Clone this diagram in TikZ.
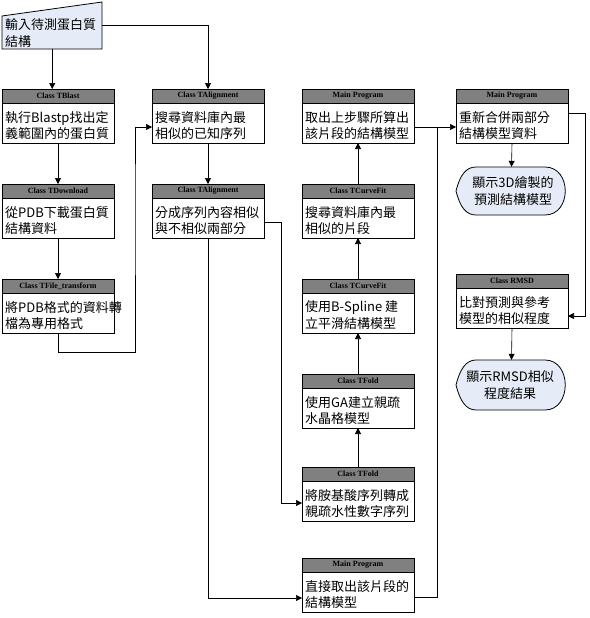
\documentclass[tikz,border=0pt]{standalone}
\usepackage{fontspec}
\setmainfont{Noto Sans CJK TC}
\newfontfamily\hdrfont{Liberation Serif}
\usetikzlibrary{arrows.meta,calc}
\definecolor{lightbg}{HTML}{E6ECF7}
\tikzset{
  boxst/.style={draw=black, line width=0.8pt, minimum width=112pt, minimum height=54pt, inner sep=0pt, outer sep=0pt},
  hdrfill/.style={fill=black!50},
  hdrtext/.style={font=\hdrfont\bfseries\fontsize{8}{9}\selectfont, text=black, inner sep=0pt},
  bodytext/.style={font=\fontsize{13}{17}\selectfont, inner sep=0pt},
  arr/.style={-{Triangle[length=6pt,width=6pt]}, line width=0.6pt},
  ln/.style={line width=0.6pt},
  dispst/.style={fill=lightbg, draw=black, line width=0.8pt}
}
\newcommand\classbox[6]{%
  \fill[hdrfill] (#2,#3) rectangle ++(112,14);
  \node[boxst, anchor=north west] (#1) at (#2,#3) {};
  \draw[line width=0.6pt] (#2,#3+14) -- ++(112,0);
  \node[hdrtext] (#1h) at (#2+56,#3+7) {#4};
  \node[bodytext, anchor=west] (#1a) at (#2+3,#3+29) {#5};
  \node[bodytext, anchor=west] (#1b) at (#2+3,#3+45) {#6};
}
\begin{document}
\begin{tikzpicture}[x=1pt,y=-1pt]
\useasboundingbox (0,0) rectangle (589,618);
% input trapezoid
\draw[dispst] (2,16) -- (102,2) -- (102,49) -- (2,49) -- cycle;
\node[inner sep=0, minimum width=100pt, minimum height=47pt, anchor=south west] (inp) at (2,49) {};
\node[bodytext, anchor=west] (inpa) at (5,25) {輸入待測蛋白質};
\node[bodytext, anchor=west] (inpb) at (5,42) {結構};
% column 1
\classbox{b1}{2}{89}{Class TBlast}{執行Blastp找出定}{義範圍內的蛋白質}
\classbox{b2}{2}{184}{Class TDownload}{從PDB下載蛋白質}{結構資料}
\classbox{b3}{2}{279}{Class TFile\_transform}{將PDB格式的資料轉}{檔為專用格式}
% column 2
\classbox{b4}{152}{89}{Class TAlignment}{搜尋資料庫內最}{相似的已知序列}
\classbox{b5}{152}{184}{Class TAlignment}{分成序列內容相似}{與不相似兩部分}
% column 3
\classbox{c1}{302}{89}{Main Program}{取出上步驟所算出}{該片段的結構模型}
\classbox{c2}{302}{184}{Class TCurveFit}{搜尋資料庫內最}{相似的片段}
\classbox{c3}{302}{279}{Class TCurveFit}{使用B-Spline 建}{立平滑結構模型}
\classbox{c4}{302}{374}{Class TFold}{使用GA建立親疏}{水晶格模型}
\classbox{c5}{302}{467}{Class TFold}{將胺基酸序列轉成}{親疏水性數字序列}
\classbox{c6}{302}{558}{Main Program}{直接取出該片段的}{結構模型}
% column 4
\classbox{d1}{456}{89}{Main Program}{重新合併兩部分}{結構模型資料}
\classbox{d2}{456}{274}{Class RMSD}{比對預測與參考}{模型的相似程度}
% display shapes
\draw[dispst] (456,191) .. controls (460,175) and (466,167) .. (476,167) -- (545,167) .. controls (572,167) and (572,215) .. (545,215) -- (476,215) .. controls (466,215) and (460,207) .. (456,191) -- cycle;
\node[inner sep=0, minimum width=111pt, minimum height=48pt] (e1) at (511.5,191) {};
\node[bodytext, align=center] (e1t) at (513,191) {顯示3D繪製的\\預測結構模型};
\draw[dispst] (456,385) .. controls (460,369) and (466,360) .. (476,360) -- (545,360) .. controls (572,360) and (572,410) .. (545,410) -- (476,410) .. controls (466,410) and (460,401) .. (456,385) -- cycle;
\node[inner sep=0, minimum width=111pt, minimum height=50pt] (e2) at (511.5,385) {};
\node[bodytext, align=center] (e2t) at (510,385) {顯示RMSD相似\\程度結果};
% connectors
\draw[arr] (inp.south) -- (inp.south |- b1.north);
\draw[arr] (inp.east) -| (b4.north);
\draw[arr] (b1.south) -- (b2.north);
\draw[arr] (b2.south) -- (b3.north);
\draw[arr] (b3.south) -- ++(0,19) -| (135,200) |- ($(b4.west)+(0,11)$);
\draw[arr] (b4.south) -- (b5.north);
\draw[arr] ($(b5.east)+(0,11)$) -- (281,222) |- ($(c5.west)+(0,9)$);
\draw[arr] (b5.south) |- ($(c6.west)+(0,13)$);
\draw[arr] (c5.north) -- (c4.south);
\draw[arr] (c4.north) -- (c3.south);
\draw[arr] (c3.north) -- (c2.south);
\draw[arr] (c2.north) -- (c1.south);
\draw[ln] ($(c6.east)+(0,12)$) -- (437,597) -- (437,127);
\draw[arr] ($(c1.east)+(0,11)$) -- ($(d1.west)+(0,11)$);
\draw[arr] (d1.south) -- (e1.north);
\draw[arr] ($(d1.east)+(0,-3)$) -- (585,113) |- ($(d2.east)+(0,15)$);
\draw[arr] (d2.south) -- (e2.north);
\end{tikzpicture}
\end{document}
